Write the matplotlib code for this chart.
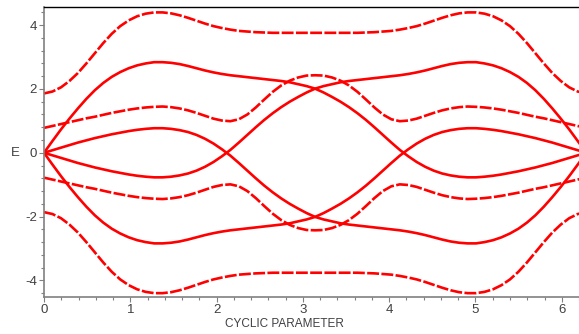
import numpy as np
import matplotlib
matplotlib.use("Agg")
import matplotlib.pyplot as plt
from matplotlib.ticker import MultipleLocator

# x samples: k*pi/32, k = 0..64 (0 .. 2*pi)
x_vals = [k * np.pi / 32 for k in range(65)]

band_A = [1.86, 1.92, 2.05, 2.25, 2.50, 2.80, 3.12, 3.44, 3.73, 3.97, 4.15, 4.28, 4.36, 4.40, 4.40, 4.37, 4.31,
          4.23, 4.14, 4.05, 3.97, 3.91, 3.86, 3.82, 3.80, 3.78, 3.77, 3.76, 3.76, 3.76, 3.76, 3.76, 3.76,
          3.76, 3.76, 3.76, 3.76, 3.76, 3.77, 3.78, 3.80, 3.82, 3.86, 3.91, 3.97, 4.05, 4.14, 4.23, 4.31,
          4.37, 4.40, 4.40, 4.36, 4.28, 4.15, 3.97, 3.73, 3.44, 3.12, 2.80, 2.50, 2.25, 2.05, 1.92, 1.86]
band_C = [0.78, 0.84, 0.90, 0.96, 1.02, 1.08, 1.13, 1.19, 1.25, 1.30, 1.35, 1.39, 1.42, 1.44, 1.45, 1.43, 1.39,
          1.33, 1.25, 1.16, 1.07, 1.01, 0.99, 1.05, 1.20, 1.42, 1.67, 1.91, 2.11, 2.26, 2.36, 2.42, 2.43,
          2.42, 2.36, 2.26, 2.11, 1.91, 1.67, 1.42, 1.20, 1.05, 0.99, 1.01, 1.07, 1.16, 1.25, 1.33, 1.39,
          1.43, 1.45, 1.44, 1.42, 1.39, 1.35, 1.30, 1.25, 1.19, 1.13, 1.08, 1.02, 0.96, 0.90, 0.84, 0.78]
band_S1 = [0.00, 0.37, 0.73, 1.07, 1.39, 1.69, 1.96, 2.19, 2.38, 2.53, 2.65, 2.74, 2.80, 2.84, 2.84, 2.82, 2.78,
           2.72, 2.65, 2.58, 2.52, 2.47, 2.43, 2.40, 2.37, 2.34, 2.31, 2.28, 2.25, 2.21, 2.15, 2.09, 2.01,
           1.89, 1.75, 1.60, 1.43, 1.24, 1.03, 0.80, 0.56, 0.32, 0.09, -0.11, -0.29, -0.44, -0.56, -0.65, -0.71,
           -0.75, -0.77, -0.77, -0.75, -0.72, -0.68, -0.63, -0.58, -0.52, -0.46, -0.39, -0.32, -0.24, -0.16, -0.08, 0.00]
band_S2 = [0.00, -0.08, -0.16, -0.24, -0.32, -0.39, -0.46, -0.52, -0.58, -0.63, -0.68, -0.72, -0.75, -0.77, -0.77, -0.75, -0.71,
           -0.65, -0.56, -0.44, -0.29, -0.11, 0.09, 0.32, 0.56, 0.80, 1.03, 1.24, 1.43, 1.60, 1.75, 1.89, 2.01,
           2.09, 2.15, 2.21, 2.25, 2.28, 2.31, 2.34, 2.37, 2.40, 2.43, 2.47, 2.52, 2.58, 2.65, 2.72, 2.78,
           2.82, 2.84, 2.84, 2.80, 2.74, 2.65, 2.53, 2.38, 2.19, 1.96, 1.69, 1.39, 1.07, 0.73, 0.37, 0.00]
band_nA = [-1.86, -1.92, -2.05, -2.25, -2.50, -2.80, -3.12, -3.44, -3.73, -3.97, -4.15, -4.28, -4.36, -4.40, -4.40, -4.37, -4.31,
           -4.23, -4.14, -4.05, -3.97, -3.91, -3.86, -3.82, -3.80, -3.78, -3.77, -3.76, -3.76, -3.76, -3.76, -3.76, -3.76,
           -3.76, -3.76, -3.76, -3.76, -3.76, -3.77, -3.78, -3.80, -3.82, -3.86, -3.91, -3.97, -4.05, -4.14, -4.23, -4.31,
           -4.37, -4.40, -4.40, -4.36, -4.28, -4.15, -3.97, -3.73, -3.44, -3.12, -2.80, -2.50, -2.25, -2.05, -1.92, -1.86]
band_nC = [-0.78, -0.84, -0.90, -0.96, -1.02, -1.08, -1.13, -1.19, -1.25, -1.30, -1.35, -1.39, -1.42, -1.44, -1.45, -1.43, -1.39,
           -1.33, -1.25, -1.16, -1.07, -1.01, -0.99, -1.05, -1.20, -1.42, -1.67, -1.91, -2.11, -2.26, -2.36, -2.42, -2.43,
           -2.42, -2.36, -2.26, -2.11, -1.91, -1.67, -1.42, -1.20, -1.05, -0.99, -1.01, -1.07, -1.16, -1.25, -1.33, -1.39,
           -1.43, -1.45, -1.44, -1.42, -1.39, -1.35, -1.30, -1.25, -1.19, -1.13, -1.08, -1.02, -0.96, -0.90, -0.84, -0.78]
band_nS1 = [0.00, -0.37, -0.73, -1.07, -1.39, -1.69, -1.96, -2.19, -2.38, -2.53, -2.65, -2.74, -2.80, -2.84, -2.84, -2.82, -2.78,
            -2.72, -2.65, -2.58, -2.52, -2.47, -2.43, -2.40, -2.37, -2.34, -2.31, -2.28, -2.25, -2.21, -2.15, -2.09, -2.01,
            -1.89, -1.75, -1.60, -1.43, -1.24, -1.03, -0.80, -0.56, -0.32, -0.09, 0.11, 0.29, 0.44, 0.56, 0.65, 0.71,
            0.75, 0.77, 0.77, 0.75, 0.72, 0.68, 0.63, 0.58, 0.52, 0.46, 0.39, 0.32, 0.24, 0.16, 0.08, 0.00]
band_nS2 = [0.00, 0.08, 0.16, 0.24, 0.32, 0.39, 0.46, 0.52, 0.58, 0.63, 0.68, 0.72, 0.75, 0.77, 0.77, 0.75, 0.71,
            0.65, 0.56, 0.44, 0.29, 0.11, -0.09, -0.32, -0.56, -0.80, -1.03, -1.24, -1.43, -1.60, -1.75, -1.89, -2.01,
            -2.09, -2.15, -2.21, -2.25, -2.28, -2.31, -2.34, -2.37, -2.40, -2.43, -2.47, -2.52, -2.58, -2.65, -2.72, -2.78,
            -2.82, -2.84, -2.84, -2.80, -2.74, -2.65, -2.53, -2.38, -2.19, -1.96, -1.69, -1.39, -1.07, -0.73, -0.37, 0.00]

dashed_bands = [band_A, band_C, band_nA, band_nC]
solid_bands = [band_S1, band_S2, band_nS1, band_nS2]

x_ticks = [0, 1, 2, 3, 4, 5, 6]
y_ticks = [-4, -2, 0, 2, 4]

plt.rcParams['font.family'] = ['Liberation Sans', 'DejaVu Sans']

W, H = 579, 334
fig = plt.figure(figsize=(W / 100, H / 100), dpi=100)
left_px, right_px, top_px, bot_px = 44, 586.2, 7.3, 297.3
ax = fig.add_axes([left_px / W, 1 - bot_px / H, (right_px - left_px) / W, (bot_px - top_px) / H])

red = '#FF0000'
for b in solid_bands:
    ax.plot(x_vals, b, color=red, lw=1.9, solid_capstyle='round', solid_joinstyle='round')
for b in dashed_bands:
    ax.plot(x_vals, b, color=red, lw=1.9, linestyle=(0, (4.5, 0.9)), dash_capstyle='butt')

ax.set_xlim(0, 2 * np.pi)
ax.set_ylim(-4.53, 4.56)

ax.set_xticks(x_ticks)
ax.set_yticks(y_ticks)
ax.set_xticklabels([str(t) for t in x_ticks])
ax.set_yticklabels([str(t) for t in y_ticks])
ax.xaxis.set_minor_locator(MultipleLocator(0.2))
ax.yaxis.set_minor_locator(MultipleLocator(0.4))

gray = '#808080'
ax.spines['right'].set_visible(False)
ax.spines['top'].set_color('black')
ax.spines['top'].set_linewidth(1.0)
ax.spines['left'].set_color(gray)
ax.spines['bottom'].set_color(gray)
ax.spines['left'].set_linewidth(1.2)
ax.spines['bottom'].set_linewidth(1.2)
ax.tick_params(which='major', direction='out', length=3.5, width=0.8, color=gray,
               labelsize=9.5, labelcolor='#404040', pad=1.5)
ax.tick_params(which='minor', direction='out', length=2.2, width=0.8, color=gray)
ax.tick_params(top=False, right=False, which='both')

fig.text(15 / W, 1 - 153 / H, 'E', ha='center', va='center', fontsize=9.5, color='#404040')
fig.text(284 / W, 1 - 324 / H, 'CYCLIC PARAMETER', ha='center', va='center', fontsize=8.5, color='#404040')

fig.savefig('out.png', dpi=100)
